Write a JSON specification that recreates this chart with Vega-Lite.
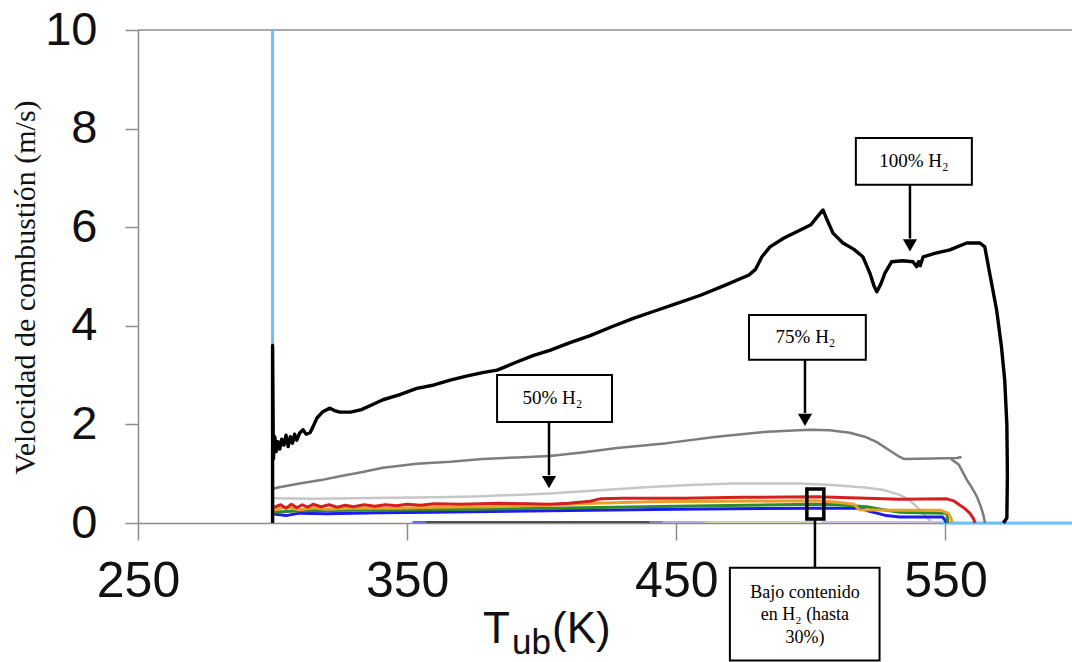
{
  "$schema": "https://vega.github.io/schema/vega-lite/v6.json",
  "autosize": "none",
  "width": 934,
  "height": 493,
  "padding": {"left": 138, "top": 30, "right": 0, "bottom": 139},
  "background": "white",
  "config": {"view": {"stroke": null}},
  "datasets": {
    "curvas": [
      {"serie": "celeste", "T": 300, "v": 10}, {"serie": "celeste", "T": 300, "v": 0},
      {"serie": "celeste_fondo", "T": 548, "v": 0}, {"serie": "celeste_fondo", "T": 597, "v": 0},

      {"serie": "gris_base", "T": 357, "v": 0.02}, {"serie": "gris_base", "T": 445, "v": 0.02},
      {"serie": "morado_a", "T": 352, "v": 0.02}, {"serie": "morado_a", "T": 357, "v": 0.02},
      {"serie": "morado_b", "T": 440, "v": 0.02}, {"serie": "morado_b", "T": 462, "v": 0.02},
      {"serie": "verde_claro", "T": 460, "v": 0.02}, {"serie": "verde_claro", "T": 502, "v": 0.02},
      {"serie": "lila", "T": 504, "v": 0.02}, {"serie": "lila", "T": 548, "v": 0.02},

      {"serie": "50% H2", "T": 300.5, "v": 0.5}, {"serie": "50% H2", "T": 315, "v": 0.49},
      {"serie": "50% H2", "T": 330, "v": 0.5}, {"serie": "50% H2", "T": 345, "v": 0.51},
      {"serie": "50% H2", "T": 360, "v": 0.52}, {"serie": "50% H2", "T": 375, "v": 0.54},
      {"serie": "50% H2", "T": 390, "v": 0.57}, {"serie": "50% H2", "T": 403, "v": 0.6},
      {"serie": "50% H2", "T": 420, "v": 0.66}, {"serie": "50% H2", "T": 440, "v": 0.73},
      {"serie": "50% H2", "T": 455, "v": 0.77}, {"serie": "50% H2", "T": 471, "v": 0.8},
      {"serie": "50% H2", "T": 485, "v": 0.8}, {"serie": "50% H2", "T": 496, "v": 0.8},
      {"serie": "50% H2", "T": 508, "v": 0.77}, {"serie": "50% H2", "T": 520, "v": 0.72},
      {"serie": "50% H2", "T": 527, "v": 0.67}, {"serie": "50% H2", "T": 533, "v": 0.57},
      {"serie": "50% H2", "T": 536.5, "v": 0.47}, {"serie": "50% H2", "T": 539.3, "v": 0.33},
      {"serie": "50% H2", "T": 541.5, "v": 0.2}, {"serie": "50% H2", "T": 543, "v": 0.12},
      {"serie": "50% H2", "T": 545, "v": 0},

      {"serie": "azul", "T": 300.5, "v": 0.18}, {"serie": "azul", "T": 305, "v": 0.15},
      {"serie": "azul", "T": 310, "v": 0.2}, {"serie": "azul", "T": 320, "v": 0.19},
      {"serie": "azul", "T": 330, "v": 0.2}, {"serie": "azul", "T": 340, "v": 0.21},
      {"serie": "azul", "T": 360, "v": 0.22}, {"serie": "azul", "T": 403, "v": 0.25},
      {"serie": "azul", "T": 450, "v": 0.28}, {"serie": "azul", "T": 502, "v": 0.3},
      {"serie": "azul", "T": 518.2, "v": 0.3}, {"serie": "azul", "T": 521, "v": 0.25},
      {"serie": "azul", "T": 524.5, "v": 0.2}, {"serie": "azul", "T": 528, "v": 0.15},
      {"serie": "azul", "T": 533, "v": 0.12}, {"serie": "azul", "T": 549, "v": 0.12},
      {"serie": "azul", "T": 550.5, "v": 0},

      {"serie": "verde", "T": 300.5, "v": 0.22}, {"serie": "verde", "T": 310, "v": 0.25},
      {"serie": "verde", "T": 330, "v": 0.26}, {"serie": "verde", "T": 360, "v": 0.27},
      {"serie": "verde", "T": 403, "v": 0.3}, {"serie": "verde", "T": 450, "v": 0.34},
      {"serie": "verde", "T": 502, "v": 0.38}, {"serie": "verde", "T": 510, "v": 0.37},
      {"serie": "verde", "T": 520.7, "v": 0.33}, {"serie": "verde", "T": 527, "v": 0.27},
      {"serie": "verde", "T": 533, "v": 0.22}, {"serie": "verde", "T": 540, "v": 0.21},
      {"serie": "verde", "T": 550.5, "v": 0.2}, {"serie": "verde", "T": 550.9, "v": 0},

      {"serie": "naranja", "T": 300.5, "v": 0.27}, {"serie": "naranja", "T": 305, "v": 0.32},
      {"serie": "naranja", "T": 310, "v": 0.27}, {"serie": "naranja", "T": 315, "v": 0.31},
      {"serie": "naranja", "T": 320, "v": 0.28}, {"serie": "naranja", "T": 330, "v": 0.3},
      {"serie": "naranja", "T": 345, "v": 0.3}, {"serie": "naranja", "T": 360, "v": 0.32},
      {"serie": "naranja", "T": 380, "v": 0.33}, {"serie": "naranja", "T": 403, "v": 0.36},
      {"serie": "naranja", "T": 420, "v": 0.4}, {"serie": "naranja", "T": 440, "v": 0.43},
      {"serie": "naranja", "T": 470, "v": 0.44}, {"serie": "naranja", "T": 502, "v": 0.45},
      {"serie": "naranja", "T": 510, "v": 0.42}, {"serie": "naranja", "T": 516, "v": 0.38},
      {"serie": "naranja", "T": 518, "v": 0.27}, {"serie": "naranja", "T": 530, "v": 0.26},
      {"serie": "naranja", "T": 548, "v": 0.26}, {"serie": "naranja", "T": 551, "v": 0.2},
      {"serie": "naranja", "T": 552, "v": 0.1}, {"serie": "naranja", "T": 552.4, "v": 0.02},

      {"serie": "rojo", "T": 300.5, "v": 0.32}, {"serie": "rojo", "T": 303, "v": 0.37},
      {"serie": "rojo", "T": 305, "v": 0.3}, {"serie": "rojo", "T": 307, "v": 0.38},
      {"serie": "rojo", "T": 309, "v": 0.31}, {"serie": "rojo", "T": 311, "v": 0.37},
      {"serie": "rojo", "T": 313, "v": 0.32}, {"serie": "rojo", "T": 315, "v": 0.38},
      {"serie": "rojo", "T": 318, "v": 0.33}, {"serie": "rojo", "T": 321, "v": 0.37},
      {"serie": "rojo", "T": 324, "v": 0.32}, {"serie": "rojo", "T": 327, "v": 0.36},
      {"serie": "rojo", "T": 330, "v": 0.33}, {"serie": "rojo", "T": 334, "v": 0.37},
      {"serie": "rojo", "T": 338, "v": 0.34}, {"serie": "rojo", "T": 342, "v": 0.37},
      {"serie": "rojo", "T": 346, "v": 0.35}, {"serie": "rojo", "T": 350, "v": 0.38},
      {"serie": "rojo", "T": 355, "v": 0.36}, {"serie": "rojo", "T": 360, "v": 0.39},
      {"serie": "rojo", "T": 370, "v": 0.38}, {"serie": "rojo", "T": 384.5, "v": 0.4},
      {"serie": "rojo", "T": 395, "v": 0.39}, {"serie": "rojo", "T": 403, "v": 0.38},
      {"serie": "rojo", "T": 410, "v": 0.4}, {"serie": "rojo", "T": 418, "v": 0.44},
      {"serie": "rojo", "T": 421.6, "v": 0.49}, {"serie": "rojo", "T": 430, "v": 0.5},
      {"serie": "rojo", "T": 452.5, "v": 0.5}, {"serie": "rojo", "T": 475, "v": 0.52},
      {"serie": "rojo", "T": 502, "v": 0.53}, {"serie": "rojo", "T": 520.7, "v": 0.5},
      {"serie": "rojo", "T": 533, "v": 0.48}, {"serie": "rojo", "T": 550.5, "v": 0.49},
      {"serie": "rojo", "T": 553, "v": 0.45}, {"serie": "rojo", "T": 555.4, "v": 0.36},
      {"serie": "rojo", "T": 557, "v": 0.3}, {"serie": "rojo", "T": 559, "v": 0.2},
      {"serie": "rojo", "T": 560.3, "v": 0.1}, {"serie": "rojo", "T": 561, "v": 0},

      {"serie": "75% H2", "T": 300.4, "v": 0.7}, {"serie": "75% H2", "T": 302, "v": 0.72},
      {"serie": "75% H2", "T": 310, "v": 0.8}, {"serie": "75% H2", "T": 318, "v": 0.87},
      {"serie": "75% H2", "T": 325, "v": 0.95}, {"serie": "75% H2", "T": 333, "v": 1.03},
      {"serie": "75% H2", "T": 341, "v": 1.12}, {"serie": "75% H2", "T": 353.6, "v": 1.2},
      {"serie": "75% H2", "T": 366, "v": 1.24}, {"serie": "75% H2", "T": 378, "v": 1.3},
      {"serie": "75% H2", "T": 391, "v": 1.33}, {"serie": "75% H2", "T": 403, "v": 1.36},
      {"serie": "75% H2", "T": 415, "v": 1.43}, {"serie": "75% H2", "T": 428, "v": 1.52},
      {"serie": "75% H2", "T": 446.5, "v": 1.62}, {"serie": "75% H2", "T": 465, "v": 1.75},
      {"serie": "75% H2", "T": 483.7, "v": 1.85}, {"serie": "75% H2", "T": 499.6, "v": 1.89},
      {"serie": "75% H2", "T": 507, "v": 1.88}, {"serie": "75% H2", "T": 514.5, "v": 1.83},
      {"serie": "75% H2", "T": 520, "v": 1.75}, {"serie": "75% H2", "T": 524.5, "v": 1.64},
      {"serie": "75% H2", "T": 529, "v": 1.48}, {"serie": "75% H2", "T": 533, "v": 1.34},
      {"serie": "75% H2", "T": 534.5, "v": 1.3}, {"serie": "75% H2", "T": 545, "v": 1.31},
      {"serie": "75% H2", "T": 554.2, "v": 1.32}, {"serie": "75% H2", "T": 556, "v": 1.34},
      {"serie": "75% H2 cola", "T": 552, "v": 1.3}, {"serie": "75% H2 cola", "T": 555, "v": 1.18},
      {"serie": "75% H2 cola", "T": 558, "v": 0.87}, {"serie": "75% H2 cola", "T": 560, "v": 0.7},
      {"serie": "75% H2 cola", "T": 561.7, "v": 0.53}, {"serie": "75% H2 cola", "T": 563, "v": 0.35},
      {"serie": "75% H2 cola", "T": 564, "v": 0.18}, {"serie": "75% H2 cola", "T": 564.7, "v": 0},

      {"serie": "100% H2", "T": 300, "v": 0}, {"serie": "100% H2", "T": 300, "v": 3.6},
      {"serie": "100% H2", "T": 300.3, "v": 1.3}, {"serie": "100% H2", "T": 300.8, "v": 1.75},
      {"serie": "100% H2", "T": 301.4, "v": 1.45}, {"serie": "100% H2", "T": 302, "v": 1.65},
      {"serie": "100% H2", "T": 302.7, "v": 1.5}, {"serie": "100% H2", "T": 303.4, "v": 1.7},
      {"serie": "100% H2", "T": 304.2, "v": 1.58}, {"serie": "100% H2", "T": 305, "v": 1.78},
      {"serie": "100% H2", "T": 305.8, "v": 1.55}, {"serie": "100% H2", "T": 306.6, "v": 1.75},
      {"serie": "100% H2", "T": 307.4, "v": 1.62}, {"serie": "100% H2", "T": 308.2, "v": 1.8},
      {"serie": "100% H2", "T": 309, "v": 1.68}, {"serie": "100% H2", "T": 310, "v": 1.82},
      {"serie": "100% H2", "T": 311.3, "v": 1.89}, {"serie": "100% H2", "T": 312.5, "v": 1.8},
      {"serie": "100% H2", "T": 313.9, "v": 1.83}, {"serie": "100% H2", "T": 315, "v": 1.95},
      {"serie": "100% H2", "T": 316.5, "v": 2.13}, {"serie": "100% H2", "T": 318.5, "v": 2.25},
      {"serie": "100% H2", "T": 321.3, "v": 2.33}, {"serie": "100% H2", "T": 323, "v": 2.28},
      {"serie": "100% H2", "T": 325, "v": 2.25}, {"serie": "100% H2", "T": 329, "v": 2.25},
      {"serie": "100% H2", "T": 333, "v": 2.3}, {"serie": "100% H2", "T": 337, "v": 2.4},
      {"serie": "100% H2", "T": 341, "v": 2.5}, {"serie": "100% H2", "T": 347, "v": 2.6},
      {"serie": "100% H2", "T": 353.6, "v": 2.73}, {"serie": "100% H2", "T": 360, "v": 2.8},
      {"serie": "100% H2", "T": 366, "v": 2.9}, {"serie": "100% H2", "T": 372, "v": 2.98},
      {"serie": "100% H2", "T": 378, "v": 3.05}, {"serie": "100% H2", "T": 383.4, "v": 3.1},
      {"serie": "100% H2", "T": 390, "v": 3.25}, {"serie": "100% H2", "T": 397, "v": 3.4},
      {"serie": "100% H2", "T": 403, "v": 3.5}, {"serie": "100% H2", "T": 410, "v": 3.65},
      {"serie": "100% H2", "T": 418, "v": 3.8}, {"serie": "100% H2", "T": 426, "v": 3.98},
      {"serie": "100% H2", "T": 434, "v": 4.15}, {"serie": "100% H2", "T": 442, "v": 4.3},
      {"serie": "100% H2", "T": 450, "v": 4.45}, {"serie": "100% H2", "T": 459, "v": 4.62},
      {"serie": "100% H2", "T": 468, "v": 4.82}, {"serie": "100% H2", "T": 477, "v": 5.03},
      {"serie": "100% H2", "T": 479.5, "v": 5.15}, {"serie": "100% H2", "T": 481.8, "v": 5.4},
      {"serie": "100% H2", "T": 484.8, "v": 5.6}, {"serie": "100% H2", "T": 490, "v": 5.78},
      {"serie": "100% H2", "T": 495.9, "v": 5.94}, {"serie": "100% H2", "T": 500, "v": 6.05},
      {"serie": "100% H2", "T": 502.2, "v": 6.2}, {"serie": "100% H2", "T": 504.5, "v": 6.35},
      {"serie": "100% H2", "T": 506, "v": 6.15}, {"serie": "100% H2", "T": 508.2, "v": 5.88},
      {"serie": "100% H2", "T": 511.9, "v": 5.68}, {"serie": "100% H2", "T": 516, "v": 5.55},
      {"serie": "100% H2", "T": 519.3, "v": 5.4}, {"serie": "100% H2", "T": 521.9, "v": 5.07},
      {"serie": "100% H2", "T": 523.5, "v": 4.8}, {"serie": "100% H2", "T": 524.5, "v": 4.69},
      {"serie": "100% H2", "T": 526, "v": 4.85}, {"serie": "100% H2", "T": 527.5, "v": 5.07},
      {"serie": "100% H2", "T": 530, "v": 5.3}, {"serie": "100% H2", "T": 534, "v": 5.32},
      {"serie": "100% H2", "T": 537.9, "v": 5.3}, {"serie": "100% H2", "T": 539.3, "v": 5.2},
      {"serie": "100% H2", "T": 540, "v": 5.3}, {"serie": "100% H2", "T": 540.6, "v": 5.22},
      {"serie": "100% H2", "T": 541.7, "v": 5.4}, {"serie": "100% H2", "T": 546, "v": 5.47},
      {"serie": "100% H2", "T": 551.6, "v": 5.54}, {"serie": "100% H2", "T": 557.9, "v": 5.68},
      {"serie": "100% H2", "T": 562.8, "v": 5.68}, {"serie": "100% H2", "T": 564.6, "v": 5.6},
      {"serie": "100% H2", "T": 566.4, "v": 5.07}, {"serie": "100% H2", "T": 569, "v": 4.32},
      {"serie": "100% H2", "T": 570.8, "v": 3.57}, {"serie": "100% H2", "T": 572, "v": 2.9},
      {"serie": "100% H2", "T": 572.8, "v": 2.0}, {"serie": "100% H2", "T": 573, "v": 1.0},
      {"serie": "100% H2", "T": 572.8, "v": 0.1}, {"serie": "100% H2", "T": 571.5, "v": 0}
    ]
  },
  "encoding": {
    "x": {"field": "T", "type": "quantitative", "scale": {"domain": [250, 597], "nice": false, "zero": false},
      "axis": {
        "title": null, "values": [250, 350, 450, 550],
        "labelFont": "Liberation Sans", "labelFontSize": 50, "labelColor": "#111111", "labelPadding": 16,
        "labelFlush": false, "labelOverlap": false,
        "tickSize": 17, "tickColor": "#8c8c8c", "tickWidth": 1.5,
        "domainColor": "#8c8c8c", "domainWidth": 1.5, "grid": false
      }
    },
    "y": {"field": "v", "type": "quantitative", "scale": {"domain": [0, 10], "nice": false, "zero": false},
      "axis": {
        "title": "Velocidad de combustión (m/s)",
        "titleFont": "Liberation Serif", "titleFontSize": 30, "titleFontWeight": "normal", "titleColor": "#111111",
        "titleAngle": -90, "titleX": -113, "titleY": 257, "titleAlign": "center", "titleBaseline": "middle",
        "values": [0, 2, 4, 6, 8, 10],
        "labelFont": "Liberation Sans", "labelFontSize": 47, "labelColor": "#111111", "labelPadding": 28,
        "labelFlush": false, "labelOverlap": false,
        "tickSize": 13, "tickColor": "#8c8c8c", "tickWidth": 1.5,
        "domainColor": "#8c8c8c", "domainWidth": 1.5, "grid": false
      }
    }
  },
  "layer": [
    {
      "data": {"values": [{"T": 250, "T2": 597, "v": 10}]},
      "mark": {"type": "rule", "color": "#8c8c8c", "strokeWidth": 1.5},
      "encoding": {"x2": {"field": "T2"}}
    },
    {
      "data": {"name": "curvas"},
      "transform": [{"filter": {"field": "serie", "oneOf": ["celeste", "celeste_fondo"]}}],
      "mark": {"type": "line", "color": "#6cc0f6", "strokeWidth": 3},
      "encoding": {
        "detail": {"field": "serie"},
        "order": {"value": null}
      }
    },
    {
      "data": {"name": "curvas"},
      "transform": [{"filter": {"field": "serie", "oneOf": ["gris_base", "morado_a", "morado_b", "verde_claro", "lila", "50% H2", "azul", "verde", "naranja", "rojo", "75% H2", "75% H2 cola", "100% H2"]}}],
      "mark": {"type": "line", "strokeJoin": "round"},
      "encoding": {
        "color": {"field": "serie", "type": "nominal", "legend": null,
          "sort": ["gris_base", "morado_a", "morado_b", "verde_claro", "lila", "50% H2", "azul", "verde", "naranja", "rojo", "75% H2", "75% H2 cola", "100% H2"],
          "scale": {
            "domain": ["gris_base", "morado_a", "morado_b", "verde_claro", "lila", "50% H2", "azul", "verde", "naranja", "rojo", "75% H2", "75% H2 cola", "100% H2"],
            "range": ["#505050", "#6a6af0", "#9a9ad8", "#b4cc9c", "#c4acdc", "#c6c6c6", "#1b1bf0", "#2d8a2d", "#e6a12a", "#d41f1f", "#7c7c7c", "#7c7c7c", "#000000"]
          }
        },
        "strokeWidth": {"field": "serie", "type": "nominal", "legend": null,
          "scale": {
            "type": "ordinal",
            "domain": ["gris_base", "morado_a", "morado_b", "verde_claro", "lila", "50% H2", "azul", "verde", "naranja", "rojo", "75% H2", "75% H2 cola", "100% H2"],
            "range": [2, 2, 1.5, 1.5, 1.5, 2.5, 3, 3, 3, 3, 2.5, 2.5, 3.4]
          }
        },
        "order": {"value": null}
      }
    },
    {
      "data": {"values": [
        {"T": 536.8, "v": 5.77, "v2": 6.86},
        {"T": 497.8, "v": 2.23, "v2": 3.31},
        {"T": 402.7, "v": 0.97, "v2": 2.05},
        {"T": 501.5, "v": -0.91, "v2": 0.08}
      ]},
      "mark": {"type": "rule", "color": "#000000", "strokeWidth": 2.5},
      "encoding": {"y2": {"field": "v2"}}
    },
    {
      "data": {"values": [
        {"T": 536.8, "v": 5.63},
        {"T": 497.8, "v": 2.09},
        {"T": 402.7, "v": 0.83}
      ]},
      "mark": {"type": "point", "shape": "triangle-down", "filled": true, "color": "#000000", "size": 200, "opacity": 1}
    },
    {
      "data": {"values": [
        {"T": 516.7, "T2": 559.8, "v": 6.86, "v2": 7.81},
        {"T": 477.0, "T2": 520.4, "v": 3.31, "v2": 4.22},
        {"T": 383.4, "T2": 426.1, "v": 2.05, "v2": 3.0},
        {"T": 469.9, "T2": 525.5, "v": -2.79, "v2": -0.91}
      ]},
      "mark": {"type": "rect", "fill": "#ffffff", "stroke": "#000000", "strokeWidth": 2},
      "encoding": {"x2": {"field": "T2"}, "y2": {"field": "v2"}}
    },
    {
      "data": {"values": [
        {"T": 498.5, "T2": 504.8, "v": 0.08, "v2": 0.69}
      ]},
      "mark": {"type": "rect", "fill": null, "fillOpacity": 0, "stroke": "#000000", "strokeWidth": 3.5},
      "encoding": {"x2": {"field": "T2"}, "y2": {"field": "v2"}}
    },
    {
      "data": {"values": [
        {"T": 538.3, "v": 7.34, "texto": "100% H₂"},
        {"T": 498.0, "v": 3.77, "texto": "75% H₂"},
        {"T": 404.0, "v": 2.54, "texto": "50% H₂"}
      ]},
      "mark": {"type": "text", "font": "Liberation Serif", "fontSize": 19, "color": "#000000", "align": "center", "baseline": "middle"},
      "encoding": {"text": {"field": "texto"}}
    },
    {
      "data": {"values": [
        {"T": 497.8, "v": -1.52, "texto": "Bajo contenido"},
        {"T": 497.8, "v": -1.97, "texto": "en H₂ (hasta"},
        {"T": 497.8, "v": -2.43, "texto": "30%)"}
      ]},
      "mark": {"type": "text", "font": "Liberation Serif", "fontSize": 18, "color": "#000000", "align": "center", "baseline": "alphabetic"},
      "encoding": {"text": {"field": "texto"}}
    },
    {
      "data": {"values": [
        {"T": 378.16, "v": -2.434, "texto": "T", "tam": 44},
        {"T": 388.93, "v": -2.66, "texto": "ub", "tam": 35},
        {"T": 403.8, "v": -2.434, "texto": "(K)", "tam": 44}
      ]},
      "mark": {"type": "text", "font": "Liberation Sans", "color": "#111111", "align": "left", "baseline": "alphabetic"},
      "encoding": {
        "text": {"field": "texto"},
        "size": {"field": "tam", "type": "quantitative", "scale": null, "legend": null}
      }
    }
  ]
}
